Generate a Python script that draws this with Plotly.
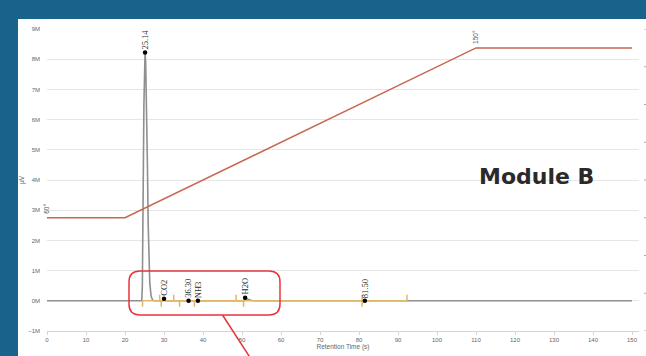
import plotly.graph_objects as go

# ---- chromatogram signal (retention time s, µV) ----
signal_t = [0, 24.3, 24.45, 24.6, 24.75, 24.85, 25.0, 25.14, 25.3, 25.55, 25.75, 25.95, 26.1, 26.35,
            26.7, 27.1, 27.5, 29.6, 30.0, 30.5, 50.5, 50.8, 51.5, 52.5, 53.5, 150]
signal_v = [0, 0, 0.5e6, 2.0e6, 5.0e6, 6.5e6, 7.8e6, 8.22e6, 7.9e6, 6.5e6, 4.5e6, 2.5e6, 1.5e6, 0.6e6,
            0.15e6, 0.02e6, 0, 0, 0.07e6, 0, 0, 0.1e6, 0.05e6, 0.01e6, 0, 0]

# ---- integration baseline and peak start/end ticks ----
baseline_t = [24.5, 92.3]
baseline_v = [0, 0]
tick_t = [24.5, 28.9, 29.3, 32.5, 34.0, 37.8, 48.5, 50.4, 80.8, 80.8, 92.3]
tick_dir = [-1, 1, -1, 1, -1, -1, 1, -1, 1, -1, 1]

# ---- identified peaks ----
peak_t = [25.14, 30.0, 36.30, 38.7, 50.8, 81.50]
peak_v = [8.22e6, 0.07e6, 0, 0, 0.1e6, 0]
peak_names = ["25.14", "CO2", "36.30", "NH3", "H2O", "81.50"]

# ---- oven temperature programme (°) ----
temp_t = [0, 20, 110, 150]
temp_v = [60, 60, 150, 150]
temp_marks = [(0, 60, "60°"), (110, 150, "150°")]
temp_ticks = [0, 20, 40, 60, 80, 100, 120, 140, 160]

y_ticks = [-1e6, 0, 1e6, 2e6, 3e6, 4e6, 5e6, 6e6, 7e6, 8e6, 9e6]
y_labels = ["−1M", "0M", "1M", "2M", "3M", "4M", "5M", "6M", "7M", "8M", "9M"]
x_ticks = list(range(0, 151, 10))

W, H = 646, 356
ML, MR, MT, MB = 47, 7, 29, 25
PW, PH = W - ML - MR, H - MT - MB
TICK_H = 0.2e6
GOLD = "#e0b86a"

def px(x):
    return (x - ML) / PW

def py(y):
    return (H - MB - y) / PH

fig = go.Figure()

fig.add_trace(go.Scatter(x=signal_t, y=signal_v, mode="lines",
                         line=dict(color="#8f8f8f", width=1.6), hoverinfo="skip"))

fig.add_trace(go.Scatter(x=baseline_t, y=baseline_v, mode="lines",
                         line=dict(color=GOLD, width=1.5), hoverinfo="skip"))

tx, ty = [], []
for t, d in zip(tick_t, tick_dir):
    tx += [t, t, None]
    ty += [0, d * TICK_H, None]
fig.add_trace(go.Scatter(x=tx, y=ty, mode="lines",
                         line=dict(color=GOLD, width=1.5), hoverinfo="skip"))

fig.add_trace(go.Scatter(x=peak_t, y=peak_v, mode="markers",
                         marker=dict(color="#000000", size=4.5), hoverinfo="skip"))

fig.add_trace(go.Scatter(x=temp_t, y=temp_v, mode="lines", yaxis="y2",
                         line=dict(color="#c8664f", width=1.5), hoverinfo="skip"))

for t, v, name in zip(peak_t, peak_v, peak_names):
    fig.add_annotation(x=t, y=v, text=name, textangle=-90, showarrow=False,
                       xanchor="center", yanchor="bottom", yshift=1,
                       font=dict(family="Liberation Serif", size=8.5, color="#2a2a2a"))

for t, v, name in temp_marks:
    fig.add_annotation(x=t, y=v, yref="y2", text=name, textangle=-90, showarrow=False,
                       xanchor="center", yanchor="bottom", yshift=2,
                       font=dict(family="Liberation Sans", size=6.5, color="#555555"))

fig.add_annotation(xref="paper", yref="paper", x=px(477), y=py(177), text="<b>Module B</b>",
                   showarrow=False, xanchor="left", yanchor="middle",
                   font=dict(family="DejaVu Sans", size=22, color="#2a2a2a"))

# white card on the blue slide
fig.add_shape(type="rect", xref="paper", yref="paper", layer="below",
              x0=px(18), x1=px(W + 5), y0=py(H + 5), y1=py(19),
              fillcolor="#ffffff", line=dict(width=0))

# right-hand temperature axis tick stubs at the card edge
for v in temp_ticks:
    fig.add_shape(type="line", xref="paper", yref="y2", x0=px(644), x1=px(647), y0=v, y1=v,
                  line=dict(color="#aaaaaa", width=1))

# red rounded highlight box and its pointer line
x0, x1, y0, y1, r = 129, 280, 271, 315, 11
rx, ry = r / PW, r / PH
X0, X1, Y0, Y1 = px(x0), px(x1), py(y1), py(y0)
path = (f"M {X0 + rx} {Y1} L {X1 - rx} {Y1} Q {X1} {Y1} {X1} {Y1 - ry} "
        f"L {X1} {Y0 + ry} Q {X1} {Y0} {X1 - rx} {Y0} "
        f"L {X0 + rx} {Y0} Q {X0} {Y0} {X0} {Y0 + ry} "
        f"L {X0} {Y1 - ry} Q {X0} {Y1} {X0 + rx} {Y1} Z")
fig.add_shape(type="path", xref="paper", yref="paper", path=path,
              line=dict(color="#e8343c", width=1.5))
fig.add_shape(type="line", xref="paper", yref="paper",
              x0=px(222.5), y0=py(315), x1=px(251), y1=py(359),
              line=dict(color="#e8343c", width=1.5))

fig.update_layout(
    width=W, height=H,
    margin=dict(l=ML, r=MR, t=MT, b=MB),
    paper_bgcolor="#17638c", plot_bgcolor="rgba(0,0,0,0)",
    showlegend=False,
    xaxis=dict(range=[0, PW / 3.9], tickvals=x_ticks, ticktext=[str(v) for v in x_ticks],
               showgrid=False, zeroline=False, showline=True, linecolor="#ccd6eb", linewidth=1,
               ticks="outside", ticklen=3, tickcolor="#ccd6eb", automargin=False,
               tickfont=dict(family="Liberation Sans", size=6, color="#666666"),
               title=dict(text="Retention Time (s)", standoff=2,
                          font=dict(family="Liberation Sans", size=6.5, color="#666666"))),
    yaxis=dict(range=[-1e6, 9e6], tickvals=y_ticks, ticktext=y_labels,
               showgrid=True, gridcolor="#e6e6e6", gridwidth=1, zeroline=False, showline=False,
               ticks="", ticklabelstandoff=6, automargin=False,
               tickfont=dict(family="Liberation Sans", size=6, color="#666666"),
               title=dict(text="µV", standoff=2,
                          font=dict(family="Liberation Sans", size=6.5, color="#666666"))),
    yaxis2=dict(range=[0, 160], overlaying="y", side="right", dtick=20,
                showgrid=False, zeroline=False, showline=False, automargin=False,
                showticklabels=False, ticks=""),
)

fig.write_html("out.html")
